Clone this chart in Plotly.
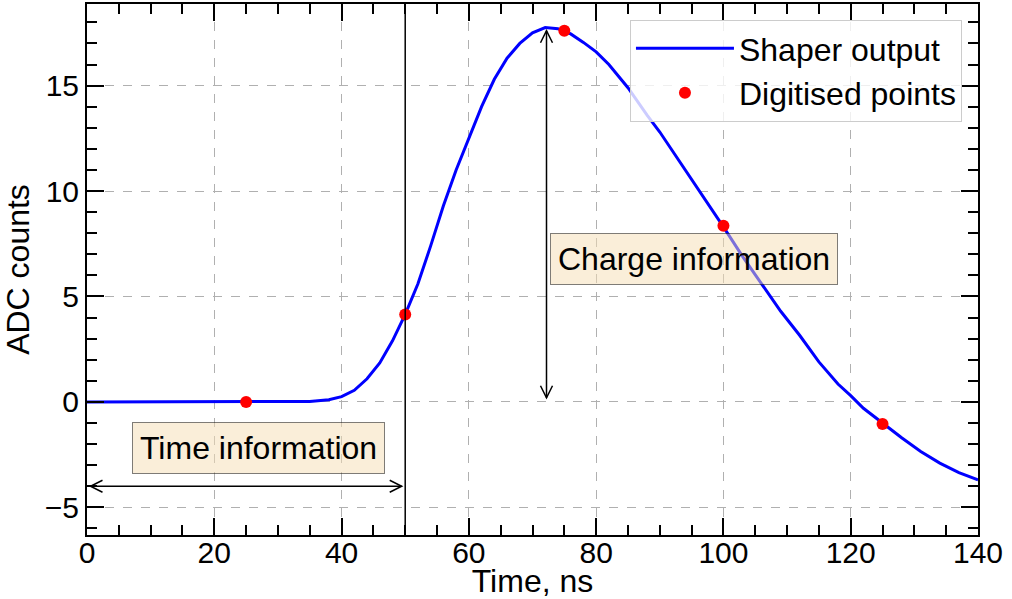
import plotly.graph_objects as go

# ---- data ----
curve_t = [0, 10, 20, 30, 35, 38, 40, 42, 44, 46, 48, 50, 52, 54, 56, 58, 60, 62, 64, 66,
           68, 70, 72, 74, 76, 78, 80, 82, 85, 88, 90, 92, 95, 98, 100, 103, 106, 109,
           112, 115, 118, 120, 122, 125, 128, 131, 134, 137, 140]
curve_adc = [0.0, 0.0, 0.0, 0.0, 0.02, 0.1, 0.25, 0.55, 1.1, 1.85, 2.9, 4.15, 5.6, 7.4,
             9.3, 11.0, 12.5, 14.0, 15.3, 16.3, 17.0, 17.5, 17.75, 17.7, 17.45, 17.05,
             16.6, 16.0, 14.9, 13.6, 12.8, 11.9, 10.6, 9.2, 8.3, 6.9, 5.6, 4.3, 3.15, 1.9,
             0.85, 0.3, -0.3, -1.0, -1.7, -2.35, -2.9, -3.35, -3.7]

sample_t = [25, 50, 75, 100, 125]
sample_adc = [0.0, 4.15, 17.6, 8.35, -1.05]

x_range = [0, 140]
y_range = [-6.31, 18.87]

sample_line_t = 50
time_arrow = dict(x0=0.55, x1=49.45, y=-4.0)
charge_arrow = dict(x=72.2, y0=0.2, y1=17.6)
time_label = dict(x=27.0, y=-2.2, text="Time information")
charge_label = dict(x=95.45, y=6.8, text="Charge information")

# ---- layout constants ----
W, H = 1012, 599
ML, MR, MT, MB = 87, 34, 4, 64
PW, PH = W - ML - MR, H - MT - MB
px_x = (x_range[1] - x_range[0]) / PW   # data units per pixel
px_y = (y_range[1] - y_range[0]) / PH

FONT = "Liberation Sans, Arial, Helvetica, sans-serif"
FS = 30      # tick labels
FT = 32      # other text

fig = go.Figure()
fig.add_trace(go.Scatter(x=curve_t, y=curve_adc, mode="lines", name="Shaper output",
                         legendgroup="a",
                         line=dict(color="#0000ff", width=3)))
fig.add_trace(go.Scatter(x=sample_t, y=sample_adc, mode="markers", name="Digitised points",
                         legendgroup="b",
                         marker=dict(color="#ff0000", size=12)))

shapes = []
# vertical sampling line
shapes.append(dict(type="line", xref="x", yref="paper", x0=sample_line_t, x1=sample_line_t,
                   y0=0, y1=1, line=dict(color="black", width=1.5)))

L, Wd = 12, 6  # arrow head length / half-width in px
arrow_line = dict(color="black", width=1.5)
# horizontal double arrow
xa, xb, ya = time_arrow["x0"], time_arrow["x1"], time_arrow["y"]
shapes.append(dict(type="line", xref="x", yref="y", x0=xa, x1=xb, y0=ya, y1=ya, line=arrow_line))
for tip, sgn in ((xa, 1), (xb, -1)):
    p = (f"M {tip + sgn*L*px_x},{ya + Wd*px_y} L {tip},{ya} L {tip + sgn*L*px_x},{ya - Wd*px_y}")
    shapes.append(dict(type="path", xref="x", yref="y", path=p, line=arrow_line))
# vertical double arrow
xc, y0, y1 = charge_arrow["x"], charge_arrow["y0"], charge_arrow["y1"]
shapes.append(dict(type="line", xref="x", yref="y", x0=xc, x1=xc, y0=y0, y1=y1, line=arrow_line))
for tip, sgn in ((y0, 1), (y1, -1)):
    p = (f"M {xc - Wd*px_x},{tip + sgn*L*px_y} L {xc},{tip} L {xc + Wd*px_x},{tip + sgn*L*px_y}")
    shapes.append(dict(type="path", xref="x", yref="y", path=p, line=arrow_line))

annotations = []
for lab in (time_label, charge_label):
    annotations.append(dict(x=lab["x"], y=lab["y"], xref="x", yref="y", text=lab["text"],
                            showarrow=False, font=dict(family=FONT, size=FT, color="black"),
                            bgcolor="rgba(245,222,179,0.5)", bordercolor="rgba(0,0,0,0.5)",
                            borderwidth=1, borderpad=7, xanchor="center", yanchor="middle"))

axis_common = dict(showline=True, linecolor="black", linewidth=2, mirror="allticks",
                   ticks="inside", ticklen=17, tickwidth=1.5, tickcolor="black",
                   showgrid=True, gridcolor="#b0b0b0", griddash="dash", gridwidth=1,
                   zeroline=False, automargin=False,
                   tickfont=dict(family=FONT, size=FS, color="black"))

fig.update_layout(
    width=W, height=H,
    margin=dict(l=ML, r=MR, t=MT, b=MB),
    paper_bgcolor="white", plot_bgcolor="white",
    font=dict(family=FONT, size=FT, color="black"),
    shapes=shapes, annotations=annotations,
    legend=dict(x=0.982, y=0.97, xanchor="right", yanchor="top",
                bgcolor="rgba(255,255,255,0.8)", bordercolor="#cccccc", borderwidth=1,
                tracegroupgap=0, itemwidth=98,
                font=dict(family=FONT, size=FT, color="black")),
    xaxis=dict(range=x_range, dtick=20, tick0=0, ticklabelstandoff=-10,
               minor=dict(ticks="inside", ticklen=10, tickwidth=1.5, tickcolor="black",
                          dtick=5, showgrid=False),
               title=dict(text="Time, ns", font=dict(family=FONT, size=FT)),
               **axis_common),
    yaxis=dict(range=y_range, dtick=5, tick0=0,
               minor=dict(ticks="inside", ticklen=10, tickwidth=1.5, tickcolor="black",
                          dtick=1, showgrid=False),
               title=dict(text="ADC counts", font=dict(family=FONT, size=FT)),
               **axis_common),
)

fig.write_html("out.html")
